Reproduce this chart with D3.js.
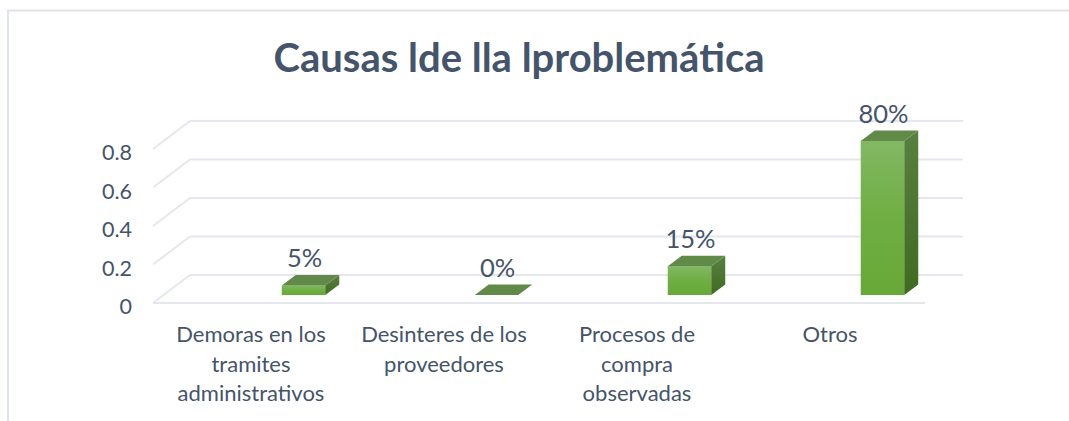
<!DOCTYPE html>
<html>
<head>
<meta charset="utf-8">
<script src="https://d3js.org/d3.v7.min.js"></script>
<style>
  html, body { margin: 0; padding: 0; background: white; overflow: hidden; }
  text { font-family: Lato, "Open Sans", sans-serif; fill: #44546a; }
</style>
</head>
<body>
<svg width="1069" height="421"></svg>
<script>
var chartTitle = "Causas lde lla lproblemática";
var categories = ["Demoras en los tramites administrativos", "Desinteres de los proveedores", "Procesos de compra observadas", "Otros"];
var categoryLines = [["Demoras en los", "tramites", "administrativos"], ["Desinteres de los", "proveedores"], ["Procesos de", "compra", "observadas"], ["Otros"]];
var values = [0.05, 0, 0.15, 0.8];
var valueLabels = ["5%", "0%", "15%", "80%"];
var yTicks = [0, 0.2, 0.4, 0.6, 0.8];

var svg = d3.select("svg");

// 3d offsets of the chart box
var depthX = 37, depthY = -28;
var barDepthX = 14, barDepthY = -10.5;

var x = d3.scaleBand().domain(categories).range([153, 925]);
var y = d3.scaleLinear().domain([0, 0.8]).range([303, 149]);

var defs = svg.append("defs");
var grad = defs.append("linearGradient").attr("id", "front").attr("x1", 0).attr("y1", 0).attr("x2", 0).attr("y2", 1);
grad.append("stop").attr("offset", "0%").attr("stop-color", "#82b864");
grad.append("stop").attr("offset", "50%").attr("stop-color", "#6fae42");
grad.append("stop").attr("offset", "100%").attr("stop-color", "#68a838");
var gradSide = defs.append("linearGradient").attr("id", "side").attr("x1", 0).attr("y1", 0).attr("x2", 0).attr("y2", 1);
gradSide.append("stop").attr("offset", "0%").attr("stop-color", "#588040");
gradSide.append("stop").attr("offset", "100%").attr("stop-color", "#3f6b20");

// outer border, only top and left show
svg.append("path")
  .attr("d", "M8,421V10.5H1069")
  .attr("fill", "none")
  .attr("stroke", "#dfe3ea")
  .attr("stroke-width", 2);

var grid = svg.append("g").attr("fill", "none").attr("stroke", "#e4e7ee").attr("stroke-width", 2);
grid.selectAll("polyline")
  .data(yTicks).enter().append("polyline")
  .attr("points", function(d) {
    var py = y(d);
    var pts = [[x.range()[0], py], [x.range()[0] + depthX, py + depthY], [x.range()[1] + depthX + 1, py + depthY]];
    return pts.join(" ");
  });
// floor front edge
grid.append("line")
  .attr("x1", x.range()[0]).attr("x2", x.range()[1])
  .attr("y1", y(0)).attr("y2", y(0));

// value axis
var yAxis = svg.append("g")
  .attr("transform", "translate(132,4)")
  .call(d3.axisLeft(y).tickValues(yTicks).tickSize(0).tickPadding(0).tickFormat(d3.format("~g")));
yAxis.select(".domain").remove();
yAxis.selectAll("text").style("font-size", "21.5px").style("fill", "#44546a");

// bars sit inside the 3d box, so they are moved in from the axis band
var barShift = 54, barW = 43.5, barBottom = 8;
var bars = svg.append("g").selectAll("g")
  .data(categories).enter().append("g");

function barLeft(i) { return x(categories[i]) + x.bandwidth() / 2 + barShift - barW / 2; }
function barTop(i) { return y(values[i]) - barBottom; }
function barBase() { return y(0) - barBottom; }

bars.filter(function(d, i) { return values[i] > 0; }).append("rect")
  .attr("x", function(d, i) { return barLeft(categories.indexOf(d)); })
  .attr("y", function(d) { return barTop(categories.indexOf(d)); })
  .attr("width", barW)
  .attr("height", function(d) { return barBase() - barTop(categories.indexOf(d)); })
  .attr("fill", "url(#front)");

bars.filter(function(d, i) { return values[i] > 0; }).append("polygon")
  .attr("points", function(d) {
    var i = categories.indexOf(d), r = barLeft(i) + barW;
    return [[r, barTop(i)], [r + barDepthX, barTop(i) + barDepthY], [r + barDepthX, barBase() + barDepthY], [r, barBase()]].join(" ");
  })
  .attr("fill", "url(#side)");

bars.append("polygon")
  .attr("points", function(d) {
    var i = categories.indexOf(d), l = barLeft(i), t = barTop(i);
    return [[l, t], [l + barDepthX, t + barDepthY], [l + barW + barDepthX, t + barDepthY], [l + barW, t]].join(" ");
  })
  .attr("fill", "#618a48");

// data labels
svg.append("g").selectAll("text")
  .data(valueLabels).enter().append("text")
  .attr("x", function(d, i) { return barLeft(i) + barW / 2 + 1; })
  .attr("y", function(d, i) { return barTop(i) + barDepthY - 8; })
  .attr("text-anchor", "middle")
  .style("font-size", "25.5px")
  .text(function(d) { return d; });

// category labels
var cats = svg.append("g").selectAll("text")
  .data(categories).enter().append("text")
  .attr("text-anchor", "middle")
  .style("font-size", "22px");
cats.selectAll("tspan")
  .data(function(d) { return categoryLines[categories.indexOf(d)]; })
  .enter().append("tspan")
  .attr("x", function() {
    var c = d3.select(this.parentNode).datum();
    return x(c) + x.bandwidth() / 2 + 1.5;
  })
  .attr("y", function(d, i) { return 342 + i * 29.5; })
  .text(function(d) { return d; });

svg.append("text")
  .attr("x", 519)
  .attr("y", 72)
  .attr("text-anchor", "middle")
  .style("font-size", "40px")
  .style("font-weight", "700")
  .text(chartTitle);
</script>
</body>
</html>
